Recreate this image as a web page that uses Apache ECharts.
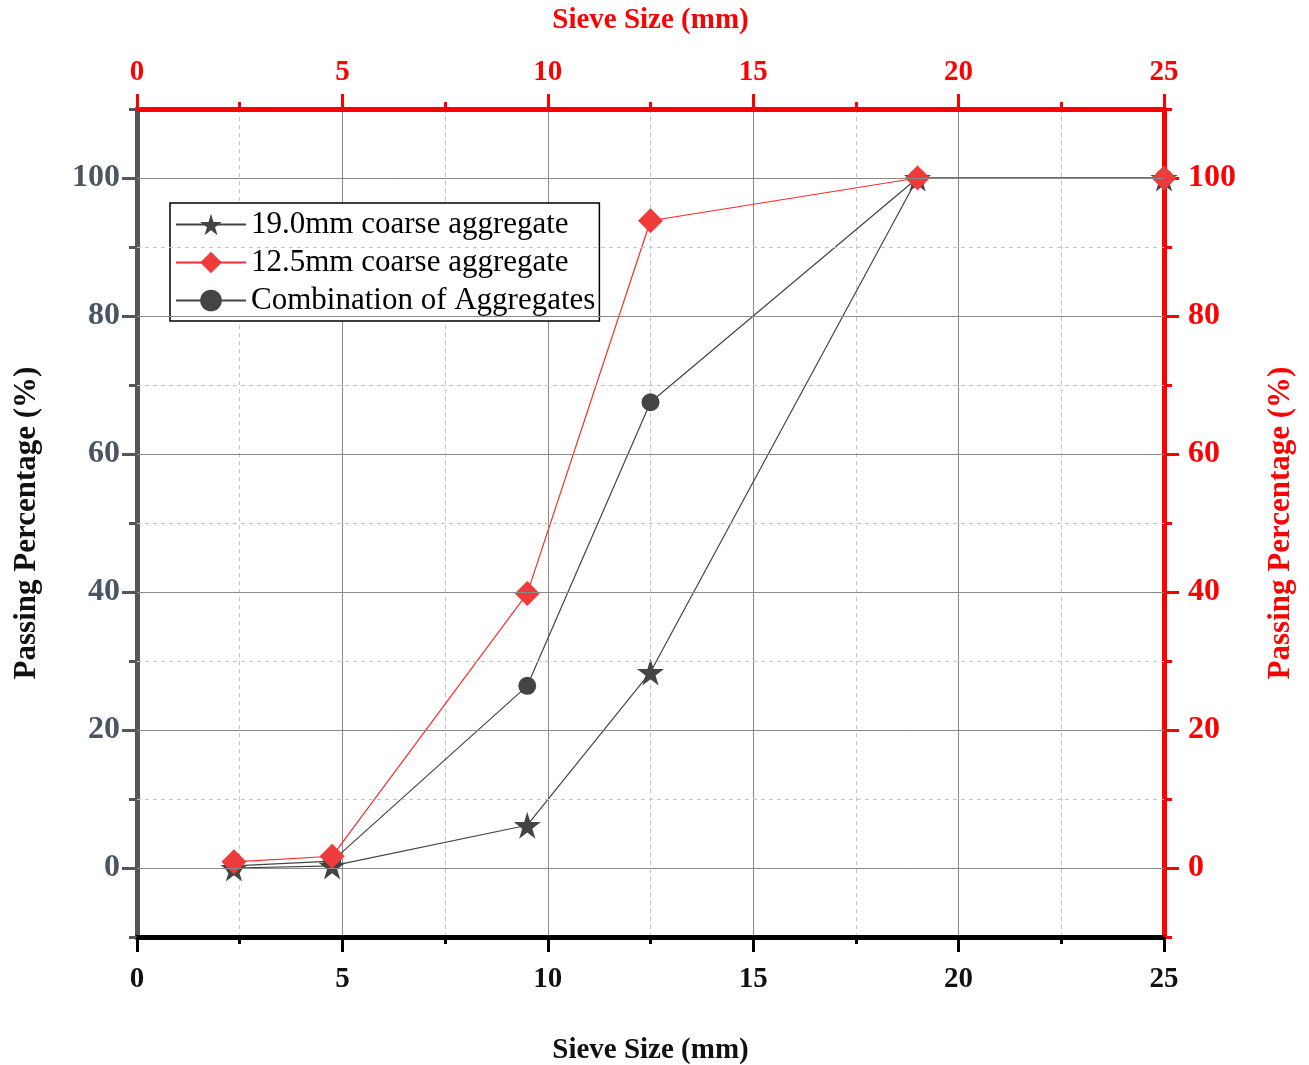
<!DOCTYPE html>
<html><head><meta charset="utf-8">
<script src="https://cdn.jsdelivr.net/npm/echarts@6/dist/echarts.min.js"></script>
<style>html,body{margin:0;padding:0;background:#fff}#c{width:1309px;height:1065px}</style>
</head><body><div id="c"></div>
<script>
const sieveSizes = [2.36, 4.75, 9.5, 12.5, 19, 25];
const coarse19 = [0, 0.3, 6.2, 28.4, 100, 100];
const coarse125 = [0.9, 1.7, 39.8, 93.8, 100, 100];
const combination = [0.3, 1.0, 26.4, 67.5, 100, 100];
const seriesNames = ['19.0mm coarse aggregate', '12.5mm coarse aggregate', 'Combination of Aggregates'];
const yMajorTicks = [0, 20, 40, 60, 80, 100];
const yMinorTicks = [-10, 10, 30, 50, 70, 90, 110];
const xTitle = 'Sieve Size (mm)';
const yTitle = 'Passing Percentage (%)';

const pts = v => sieveSizes.map((x, i) => [x, v[i]]);
const FONT = '"Liberation Serif","Times New Roman",serif';
const STAR = 'path://M50,0 L61,35 L98,35 L68,57 L79,91 L50,70 L21,91 L32,57 L2,35 L39,35 Z';

const chart = echarts.init(document.getElementById('c'));
const xAxisDef = (pos, color) => ({
  type: 'value', position: pos, min: 0, max: 25, interval: 5,
  name: xTitle, nameLocation: 'middle', nameMoveOverlap: false,
  nameGap: pos === 'bottom' ? 99 : 74,
  nameTextStyle: {fontFamily: FONT, fontWeight: 'bold', fontSize: 29, color: color === '#000' ? '#111' : 'red'},
  axisLine: {show: true, onZero: false, lineStyle: {color: color, width: 5}},
  axisTick: {show: true, inside: false, length: 15, lineStyle: {color: color, width: 3}},
  minorTick: {show: true, splitNumber: 2, length: 7, lineStyle: {color: color, width: 3}},
  axisLabel: {fontFamily: FONT, fontWeight: 'bold', fontSize: 29, color: color === '#000' ? '#111' : 'red',
    margin: pos === 'bottom' ? 28 : 22},
  splitLine: {show: pos === 'bottom', lineStyle: {color: '#8a8a8a', width: 1}},
  minorSplitLine: {show: pos === 'bottom', lineStyle: {color: '#c4c4c4', width: 1, type: [4, 4]}}
});
const yAxisDef = (pos, color, labelColor, gap, major) => ({
  type: 'value', position: pos, min: -10, max: 110, interval: 10,
  name: major ? yTitle : '', nameLocation: 'middle', nameGap: gap, nameRotate: 90, nameMoveOverlap: false,
  nameTextStyle: {fontFamily: FONT, fontWeight: 'bold', fontSize: 31, color: color === 'red' ? 'red' : '#111'},
  axisLine: {show: major, onZero: false, lineStyle: {color: color, width: 5}},
  axisTick: {show: true, inside: false, length: major ? 15 : 8,
    customValues: major ? yMajorTicks : yMinorTicks, lineStyle: {color: color, width: 3}},
  minorTick: {show: false},
  axisLabel: {show: major, fontFamily: FONT, fontWeight: 'bold', fontSize: 32, color: labelColor,
    margin: pos === 'left' ? 17 : 24, customValues: yMajorTicks},
  splitLine: {show: false},
  minorSplitLine: {show: false}
});

const gridLines = yMajorTicks.map(v => ({yAxis: v, lineStyle: {color: '#8a8a8a', width: 1, type: 'solid'}}))
  .concat(yMinorTicks.filter(v => v > -10 && v < 110)
    .map(v => ({yAxis: v, lineStyle: {color: '#c4c4c4', width: 1, type: [4, 4]}})));

chart.setOption({
  animation: false,
  backgroundColor: '#fff',
  grid: {left: 137, right: 145, top: 109, bottom: 128, containLabel: false, outerBoundsMode: 'none'},
  xAxis: [xAxisDef('bottom', '#000'), xAxisDef('top', 'red')],
  yAxis: [
    yAxisDef('left', '#555555', '#4a5560', 95, true),
    yAxisDef('right', 'red', 'red', 101, true),
    yAxisDef('left', '#555555', '#4a5560', 95, false),
    yAxisDef('right', 'red', 'red', 101, false)
  ],
  legend: {
    left: 170, top: 203, orient: 'vertical',
    padding: [6, 4, 5, 5], itemGap: 7,
    itemWidth: 70, itemHeight: 27,
    borderColor: '#000', borderWidth: 1.5, backgroundColor: '#fff',
    textStyle: {fontFamily: FONT, fontSize: 31, color: '#000'},
    data: seriesNames
  },
  series: [
    {type: 'line', data: [], z: 0, silent: true, xAxisIndex: 0, yAxisIndex: 0,
      markLine: {silent: true, symbol: 'none', label: {show: false}, data: gridLines}},
    {name: seriesNames[0], type: 'line', data: pts(coarse19), symbol: STAR, symbolSize: 27,
      z: 2, lineStyle: {color: '#444', width: 1.2}, itemStyle: {color: '#444'}},
    {name: seriesNames[1], type: 'line', data: pts(coarse125), symbol: 'diamond', symbolSize: 25,
      z: 4, lineStyle: {color: '#ff2a2a', width: 1.2}, itemStyle: {color: '#ef3b3b'}},
    {name: seriesNames[2], type: 'line', data: pts(combination), symbol: 'circle', symbolSize: 18,
      z: 3, lineStyle: {color: '#444', width: 1.2}, itemStyle: {color: '#444'}}
  ]
});
</script></body></html>
